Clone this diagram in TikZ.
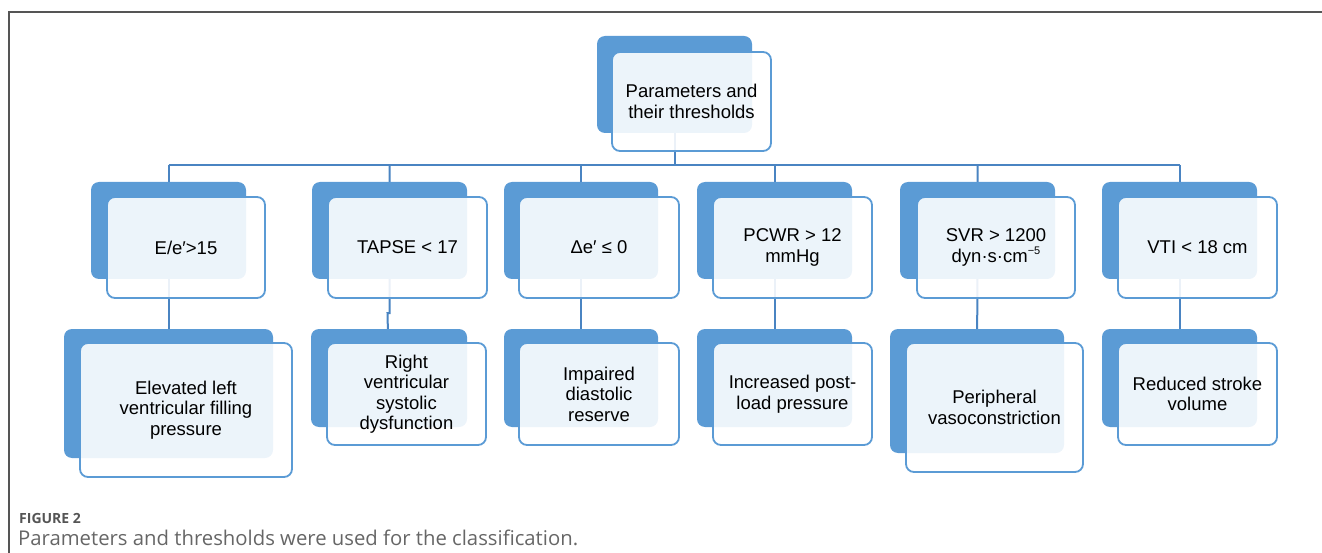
\documentclass[tikz,border=0pt]{standalone}
\usepackage{fontspec}
\setmainfont{Liberation Sans}
\newfontfamily\capfont{Open Sans}
\definecolor{backblue}{HTML}{5B9BD5}
\definecolor{edgeblue}{HTML}{5B9BD5}
\definecolor{linkblue}{HTML}{4A84C2}
\definecolor{framegray}{HTML}{555555}
\definecolor{capgray}{HTML}{666666}
\definecolor{labgray}{HTML}{555555}
\tikzset{
  backbox/.style={fill=backblue, draw=none, rounded corners=8pt, inner sep=0pt, outer sep=0pt},
  frontbox/.style={fill=white, fill opacity=0.89, text opacity=1, draw=edgeblue, line width=1.8pt,
    rounded corners=8pt, inner sep=0pt, outer sep=0pt, align=center, text=black,
    font=\fontsize{18.5}{20.5}\selectfont},
  link/.style={draw=linkblue, line width=2pt},
  frameline/.style={draw=framegray, line width=1.2pt},
}
\newcommand\mkback[5]{%
  \node[backbox, minimum width={#4-#2}, minimum height={#5-#3}] (#1) at ({(#2+#4)/2},{(#3+#5)/2}) {};}
\newcommand\mkfront[6]{%
  \node[frontbox, minimum width={#4-#2}, minimum height={#5-#3}] (#1) at ({(#2+#4)/2},{(#3+#5)/2}) {#6};}
\begin{document}
\begin{tikzpicture}[x=1pt,y=-1pt]
\useasboundingbox (0,0) rectangle (1322,553);
\draw[frameline] (9,553) -- (9,12) -- (1322,12);
\coordinate (bus) at (0,165);
% anchor points of the back boxes (links are drawn beneath the boxes)
\coordinate (p0) at (674.5,84.5);
\coordinate (p1) at (168.5,230.5);
\coordinate (p2) at (389.5,230.5);
\coordinate (p3) at (581,230.5);
\coordinate (p4) at (774.5,230.5);
\coordinate (p5) at (977.5,230.5);
\coordinate (p6) at (1179.5,230.5);
\coordinate (q1) at (168.5,393.5);
\coordinate (q2) at (389,378);
\coordinate (q3) at (581,378);
\coordinate (q4) at (774.5,378);
\coordinate (q5) at (977,391);
\coordinate (q6) at (1179.5,378);
\coordinate (jog) at (389.5,313);
\draw[link] (p0) -- (p0|-bus);
\draw[link] (p1|-bus) -- (p6|-bus);
\foreach \i in {1,3,4,5,6} {\draw[link] (p\i|-bus) -- (p\i) -- (q\i);}
\draw[link] (p2|-bus) -- (p2) -- (jog) -- ++(-2,0) -- (q2);
% --- back boxes
\mkback{b0}{597}{36}{752}{133}
\mkback{b1}{91}{182}{246}{279}
\mkback{b2}{312}{182}{467}{279}
\mkback{b3}{504}{182}{658}{279}
\mkback{b4}{697}{182}{852}{279}
\mkback{b5}{900}{182}{1055}{279}
\mkback{b6}{1102}{182}{1257}{279}
\mkback{c1}{64}{329}{273}{458}
\mkback{c2}{311}{329}{467}{427}
\mkback{c3}{504}{329}{658}{427}
\mkback{c4}{697}{329}{852}{427}
\mkback{c5}{890}{329}{1064}{453}
\mkback{c6}{1102}{329}{1257}{427}
% --- front boxes
\mkfront{f0}{612}{52}{771}{151}{Parameters and\\their thresholds}
\mkfront{f1}{107}{197}{265}{298}{E/e′>15}
\mkfront{f2}{328}{197}{487}{298}{TAPSE < 17}
\mkfront{f3}{519}{197}{679}{298}{Δe′ ≤ 0}
\mkfront{f4}{713}{197}{872}{298}{PCWR > 12\\mmHg}
\mkfront{f5}{917}{197}{1075}{298}{SVR > 1200\\dyn·s·cm\raisebox{0.75ex}{\fontsize{11}{11}\selectfont −5}}
\mkfront{f6}{1118}{197}{1277}{298}{VTI < 18 cm}
\mkfront{g1}{80}{343}{292}{477}{Elevated left\\ventricular filling\\pressure}
\mkfront{g2}{327}{343}{486}{445}{Right\\ventricular\\systolic\\dysfunction}
\mkfront{g3}{519}{343}{679}{445}{Impaired\\diastolic\\reserve}
\mkfront{g4}{713}{343}{872}{445}{Increased post-\\load pressure}
\mkfront{g5}{906}{343}{1083}{472}{Peripheral\\vasoconstriction}
\mkfront{g6}{1118}{343}{1277}{445}{Reduced stroke\\volume}
% --- caption
\node[anchor=base west, inner sep=0pt, text=labgray, font=\capfont\bfseries\fontsize{14}{16}\selectfont] (figlab) at (19,523) {FIGURE 2};
\node[anchor=base west, inner sep=0pt, text=capgray, font=\capfont\fontsize{20.3}{23}\selectfont] (figcap) at (18,545) {Parameters and thresholds were used for the classification.};
\end{tikzpicture}
\end{document}
